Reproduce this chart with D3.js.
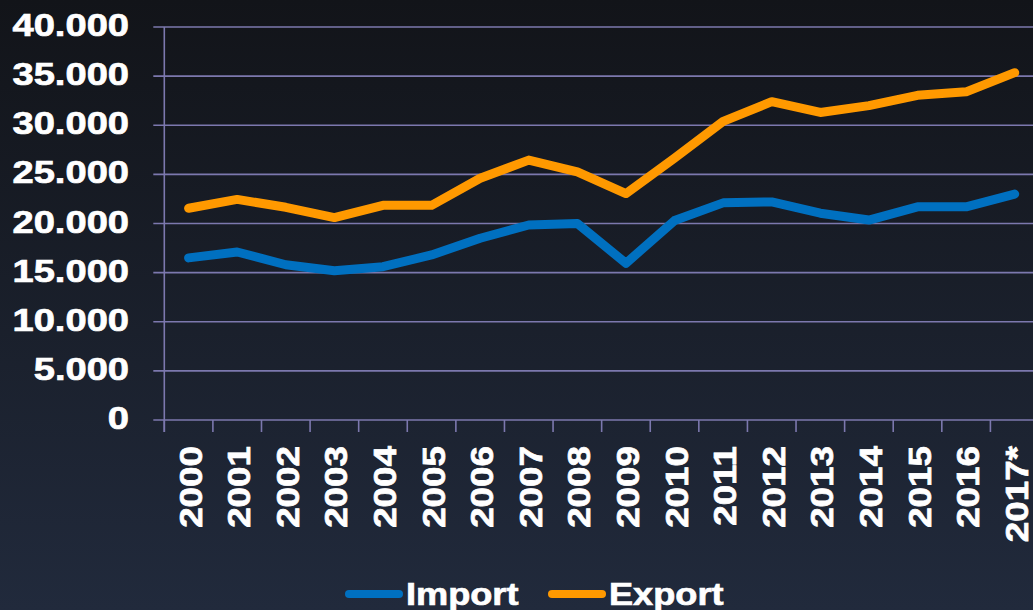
<!DOCTYPE html>
<html>
<head>
<meta charset="utf-8">
<script src="https://cdn.jsdelivr.net/npm/d3@7"></script>
<style>
  html, body { margin: 0; padding: 0; background: #161a22; }
  svg { display: block; }
  text { font-family: "Liberation Sans", Arial, sans-serif; font-weight: bold; fill: #ffffff;
         stroke: #ffffff; stroke-width: 0.7px; }
</style>
</head>
<body>
<div id="chart"></div>
<script>
var years = ["2000", "2001", "2002", "2003", "2004", "2005", "2006", "2007", "2008",
             "2009", "2010", "2011", "2012", "2013", "2014", "2015", "2016", "2017*"];
var importValues = [16500, 17100, 15800, 15200, 15600, 16800, 18500, 19850, 20000,
                    15950, 20300, 22100, 22200, 21050, 20350, 21700, 21700, 23000];
var exportValues = [21550, 22450, 21650, 20600, 21850, 21850, 24600, 26450, 25250,
                    23050, 26650, 30400, 32400, 31300, 32000, 33050, 33400, 35350];
var yTicks = [0, 5000, 10000, 15000, 20000, 25000, 30000, 35000, 40000];
var seriesNames = ["Import", "Export"];
var seriesColors = ["#0070c0", "#ff9900"];

var width = 1033;
var height = 610;
var margin = {top: 27, right: -6, bottom: 190, left: 164.3};

var svg = d3.select("#chart")
  .append("svg")
  .attr("width", width)
  .attr("height", height);

// background gradient
var defs = svg.append("defs");
var grad = defs.append("linearGradient")
  .attr("id", "bg")
  .attr("x1", 0).attr("y1", 0).attr("x2", 0).attr("y2", 1);
grad.append("stop").attr("offset", "0%").attr("stop-color", "#121419");
grad.append("stop").attr("offset", "100%").attr("stop-color", "#212a3c");
svg.append("rect")
  .attr("width", width)
  .attr("height", height)
  .attr("fill", "url(#bg)");

var x = d3.scaleBand()
  .domain(years)
  .range([margin.left, width - margin.right])
  .padding(0);

var y = d3.scaleLinear()
  .domain([0, 40000])
  .range([height - margin.bottom, margin.top]);

var gridColor = "#7c78ae";
var fmt = d3.format(",");
function label(v) { return fmt(v).replace(/,/g, "."); }

// stretch glyphs a bit wider, like the original
function stretch(sel, k) {
  sel.each(function() {
    var len = this.getComputedTextLength();
    d3.select(this)
      .attr("textLength", len * k)
      .attr("lengthAdjust", "spacingAndGlyphs");
  });
}

// horizontal gridlines (tick + grid in one)
svg.append("g")
  .selectAll("line")
  .data(yTicks)
  .join("line")
  .attr("x1", margin.left - 11)
  .attr("x2", width + 10)
  .attr("y1", d => y(d))
  .attr("y2", d => y(d))
  .attr("stroke", gridColor)
  .attr("stroke-width", 1.6);

// y axis line
svg.append("line")
  .attr("x1", margin.left).attr("x2", margin.left)
  .attr("y1", y(40000)).attr("y2", y(0) + 12)
  .attr("stroke", gridColor)
  .attr("stroke-width", 1.6);

// x tick marks at band edges
svg.append("g")
  .selectAll("line")
  .data(years)
  .join("line")
  .attr("x1", d => x(d))
  .attr("x2", d => x(d))
  .attr("y1", y(0))
  .attr("y2", y(0) + 12)
  .attr("stroke", gridColor)
  .attr("stroke-width", 1.6);

// y labels
svg.append("g")
  .selectAll("text")
  .data(yTicks)
  .join("text")
  .attr("x", 129)
  .attr("y", d => y(d) + 9)
  .attr("text-anchor", "end")
  .attr("font-size", 32)
  .text(d => label(d))
  .call(stretch, 1.19);

// x labels, rotated
svg.append("g")
  .selectAll("text")
  .data(years)
  .join("text")
  .attr("transform", d => "translate(" + (x(d) + x.bandwidth() / 2 + 13) + "," + 446 + ") rotate(-90)")
  .attr("text-anchor", "end")
  .attr("font-size", 32)
  .text(d => d)
  .call(stretch, 1.15);

// lines
var line = d3.line()
  .x((d, i) => x(years[i]) + x.bandwidth() / 2)
  .y(d => y(d));

[importValues, exportValues].forEach(function(vals, i) {
  svg.append("path")
    .datum(vals)
    .attr("fill", "none")
    .attr("stroke", seriesColors[i])
    .attr("stroke-width", 9)
    .attr("stroke-linejoin", "round")
    .attr("stroke-linecap", "round")
    .attr("d", line);
});

// legend
var legendX = [345, 548];
var legend = svg.append("g");
seriesNames.forEach(function(name, i) {
  legend.append("line")
    .attr("x1", legendX[i] + 4)
    .attr("x2", legendX[i] + 54)
    .attr("y1", 594)
    .attr("y2", 594)
    .attr("stroke", seriesColors[i])
    .attr("stroke-width", 8)
    .attr("stroke-linecap", "round");
  legend.append("text")
    .attr("x", legendX[i] + 61)
    .attr("y", 605)
    .attr("font-size", 32)
    .text(name)
    .call(stretch, 1.13);
});
</script>
</body>
</html>
